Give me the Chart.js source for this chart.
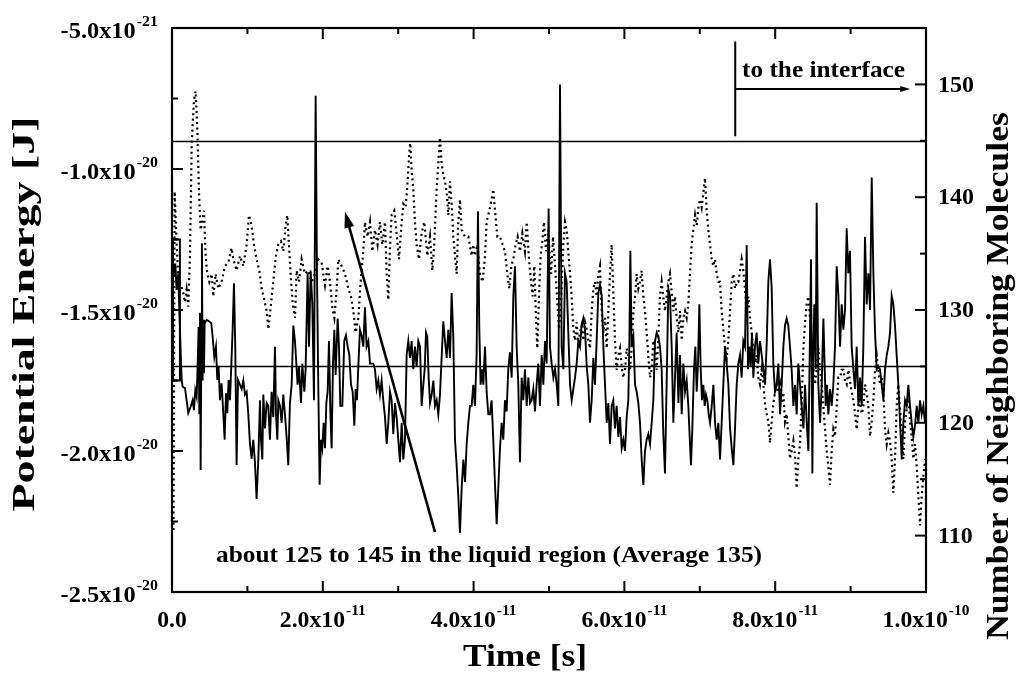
<!DOCTYPE html>
<html><head><meta charset="utf-8">
<script src="https://cdn.jsdelivr.net/npm/chart.js@4/dist/chart.umd.min.js"></script>
<style>html,body{margin:0;padding:0;background:#fff}</style>
</head><body>
<canvas id="c" width="1023" height="688"></canvas>
<script>
// ---- data (time in ps = 1e-12 s; energy in 1e-21 J; neighbours in molecules) ----
const peTime = [0.26,0.44,0.61,0.84,0.97,1.28,1.41,1.72,2.16,2.47,2.74,2.91,3.09,3.27,3.40,3.53,3.62,3.71,3.80,3.89,3.97,4.06,4.15,4.24,4.33,4.59,4.95,5.21,5.39,5.61,5.83,6.01,6.18,6.36,6.58,6.80,6.98,7.16,7.33,7.51,7.69,7.86,8.04,8.22,8.39,8.57,8.75,
9.24,9.46,9.68,9.90,10.12,10.34,10.56,10.78,11.00,11.22,11.45,11.67,11.80,11.98,12.11,12.33,12.55,12.77,12.99,13.21,13.43,13.66,13.79,13.97,14.10,14.32,14.54,14.76,14.98,15.20,15.42,15.64,15.87,16.09,
16.31,16.66,16.84,17.11,17.28,17.55,17.72,17.99,18.17,18.39,18.61,18.83,19.05,19.23,19.40,19.58,19.76,19.93,20.11,20.29,20.47,20.64,20.82,21.00,21.17,21.35,21.53,21.70,21.97,22.15,22.32,22.59,22.85,23.07,23.30,23.52,23.74,23.96,24.18,24.36,24.53,24.71,24.93,25.15,25.37,25.59,25.81,26.04,26.26,26.48,26.70,26.92,27.14,27.36,27.58,27.80,28.02,28.25,28.47,28.69,28.91,29.13,29.35,29.57,29.79,30.01,30.24,30.46,30.68,30.90,31.12,31.34,31.56,31.78,32.00,32.22,32.44,32.67,32.89,33.11,33.33,
33.51,33.69,33.86,34.04,34.22,34.44,34.66,34.88,35.10,35.32,35.54,35.76,35.98,36.21,36.43,36.65,36.87,37.09,37.31,37.53,37.75,37.97,38.19,38.42,38.64,38.86,39.08,39.30,39.52,39.74,39.96,40.18,40.40,40.58,40.76,40.93,41.11,41.29,41.51,41.73,41.95,42.17,42.39,42.61,42.84,43.06,43.28,43.50,43.72,43.94,44.16,44.38,44.60,44.82,45.05,45.27,45.49,45.71,45.93,46.15,46.37,46.59,46.81,47.04,47.26,47.48,47.70,47.92,48.14,48.36,48.58,48.80,49.03,49.25,49.47,49.69,49.95,50.13,
50.35,50.58,50.80,51.02,51.24,51.46,51.68,51.90,52.12,52.34,52.56,52.79,53.01,53.23,53.45,53.67,53.89,54.11,54.33,54.55,54.78,55.00,55.22,55.44,55.66,55.88,56.10,56.32,56.54,56.76,56.99,57.21,57.43,57.65,57.87,58.09,58.31,58.53,58.75,58.97,59.20,59.42,59.64,59.86,60.08,60.30,60.52,60.65,60.79,60.96,61.19,61.41,61.63,61.85,62.07,62.29,62.51,62.73,62.95,63.17,63.40,63.62,63.84,64.06,64.28,64.50,64.72,64.94,65.16,65.38,65.60,65.83,66.05,
66.27,66.49,66.71,66.93,67.16,67.38,67.60,67.82,68.04,68.26,68.48,68.70,68.83,69.01,69.23,69.41,69.59,69.76,69.94,70.12,70.29,70.47,70.65,70.82,71.00,71.18,71.36,71.58,71.80,72.02,72.24,72.46,72.68,72.90,73.12,73.34,73.56,73.79,74.01,74.23,74.45,74.67,74.89,75.11,75.33,75.55,75.77,75.99,76.22,76.39,76.57,76.75,76.92,77.10,77.32,77.54,77.76,77.98,78.21,78.43,78.65,78.87,79.09,79.31,79.53,79.75,79.97,80.19,80.42,80.64,80.86,81.08,81.30,81.52,81.74,81.96,82.18,82.41,82.63,
82.85,83.07,83.29,83.51,83.74,83.96,84.18,84.40,84.62,84.75,84.93,85.06,85.19,85.37,85.50,85.72,85.95,86.17,86.39,86.52,86.70,86.87,87.05,87.27,87.49,87.71,87.93,88.16,88.38,88.60,88.82,89.04,89.26,89.48,89.70,89.92,90.14,90.37,90.59,90.81,91.03,91.25,91.47,91.69,91.91,92.13,92.36,92.58,92.80,93.02,93.24,93.46,93.68,93.90,94.12,94.35,94.57,94.79,95.01,95.23,95.45,95.67,95.89,96.11,96.33,96.56,96.78,97.00,97.22,97.44,97.66,97.88,98.10,98.32,98.54,98.77,98.99,99.21,99.43,99.65,99.87];
const peValue = [-13.82,-13.35,-14.29,-13.7,-15.0,-17.48,-17.72,-17.77,-18.65,-18.43,-18.2,-18.55,-17.84,-18.07,-17.0,-15.6,-18.66,-15.1,-20.67,-16.3,-12.63,-17.5,-15.35,-17.24,-15.47,-15.35,-15.41,-15.47,-15.94,-16.66,-16.3,-17.48,-17.0,-18.2,-17.6,-18.66,-19.6,-17.95,-18.66,-17.48,-18.2,-17.0,-15.7,-14.05,-16.3,-20.5,-17.48,
-17.8,-17.5,-18.0,-17.9,-18.7,-19.75,-20.27,-19.6,-20.4,-21.7,-20.27,-18.2,-19.6,-20.3,-18.0,-19.2,-18.3,-18.4,-19.6,-17.9,-18.8,-16.3,-18.7,-19.6,-18.2,-18.4,-19.0,-18.0,-18.7,-19.5,-20.5,-18.3,-17.65,-15.55,
-16.1,-17.65,-17.0,-18.3,-16.9,-17.9,-17.1,-13.7,-16.3,-13.6,-14.8,-18.2,-7.4,-13.7,-17.65,-21.2,-19.6,-19.9,-19.0,-19.9,-18.3,-17.9,-16.1,-18.6,-19.9,-16.9,-15.7,-17.3,-15.3,-16.3,-18.4,-18.4,-16.1,-15.9,-16.3,-16.6,-17.65,-17.9,-19.1,-17.8,-18.2,-17.0,-15.7,-15.9,-16.3,-14.9,-16.3,-16.1,-16.9,-16.9,-16.9,-17.1,-17.8,-17.5,-18.0,-17.5,-18.2,-18.8,-19.75,-19.0,-17.9,-18.2,-19.4,-18.3,-18.8,-19.6,-20.4,-19.0,-20.3,-19.6,-16.6,-16.1,-16.7,-16.1,-17.1,-16.3,-17.0,-16.1,-16.3,-18.4,-17.65,
-17.1,-15.8,-15.95,-17.4,-18.3,-18.0,-17.5,-18.4,-18.2,-18.7,-18.0,-16.7,-15.4,-16.1,-16.7,-15.7,-16.7,-14.4,-15.95,-19.6,-20.5,-21.6,-22.9,-21.3,-20.3,-21.1,-19.75,-19.0,-18.4,-18.4,-17.65,-18.4,-16.6,-11.5,-15.7,-17.65,-17.1,-17.65,-16.3,-17.9,-18.7,-18.7,-18.2,-19.6,-21.2,-22.6,-21.3,-19.9,-19.0,-19.6,-18.2,-18.6,-17.1,-16.5,-17.4,-14.5,-13.45,-16.3,-17.65,-20.4,-17.4,-18.2,-17.1,-18.4,-17.4,-18.3,-18.2,-17.8,-18.6,-17.65,-16.9,-18.4,-16.6,-17.65,-16.1,-16.9,-11.4,-16.3,
-16.9,-17.4,-17.1,-17.65,-18.4,-7.0,-16.3,-17.1,-13.7,-14.0,-15.8,-17.65,-18.2,-17.8,-17.4,-16.9,-16.1,-16.3,-15.55,-15.3,-15.7,-17.0,-17.65,-19.0,-18.2,-16.7,-17.65,-16.1,-14.4,-14.1,-14.5,-16.3,-17.65,-19.0,-18.3,-19.75,-18.4,-18.2,-19.2,-18.4,-19.5,-18.8,-19.9,-19.6,-20.0,-18.8,-18.2,-16.3,-12.9,-16.3,-15.95,-17.65,-17.9,-18.3,-19.0,-20.3,-21.2,-20.0,-19.6,-19.4,-19.75,-19.0,-18.2,-16.1,-15.8,-15.95,-16.3,-17.1,-19.4,-20.8,-17.65,-14.25,-14.5,
-16.3,-19.0,-17.4,-15.8,-18.3,-16.6,-18.7,-16.9,-17.9,-17.5,-18.4,-19.75,-20.5,-19.2,-17.1,-16.3,-17.9,-16.9,-14.8,-17.1,-18.2,-17.65,-18.4,-18.0,-18.2,-18.7,-19.0,-18.4,-17.65,-19.0,-19.6,-19.0,-20.3,-19.0,-17.65,-16.3,-16.9,-17.65,-19.2,-19.9,-20.5,-19.2,-17.65,-16.9,-16.6,-17.4,-16.1,-16.3,-12.7,-17.1,-16.3,-17.0,-15.8,-17.4,-16.3,-15.8,-16.9,-16.1,-16.6,-17.1,-17.65,-16.2,-14.0,-13.2,-14.2,-16.9,-17.9,-17.65,-16.9,-18.7,-17.65,-16.3,-15.55,-15.3,-15.55,-16.3,-17.1,-18.4,-17.65,
-18.7,-16.9,-17.65,-18.4,-19.2,-17.65,-19.0,-20.0,-15.7,-13.2,-20.8,-16.3,-14.8,-17.1,-11.2,-17.65,-19.0,-17.65,-15.3,-16.6,-18.4,-17.65,-18.7,-17.8,-18.4,-17.65,-16.3,-13.45,-14.5,-16.3,-14.8,-15.7,-15.0,-12.1,-13.7,-12.9,-16.3,-17.1,-17.8,-16.3,-18.4,-17.4,-18.4,-16.3,-12.4,-14.8,-13.7,-15.0,-10.3,-13.7,-15.8,-17.1,-17.0,-17.1,-17.65,-18.2,-17.1,-16.6,-16.3,-15.8,-14.5,-14.8,-15.55,-16.6,-17.65,-19.0,-20.3,-19.0,-18.2,-18.4,-17.65,-18.4,-19.0,-19.5,-19.1,-18.4,-19.0,-18.2,-18.7,-18.4,-19.0];

const nbTime = [0.2,0.35,0.55,0.8,1.5,1.72,1.94,2.16,2.38,2.52,2.61,2.91,3.13,3.35,3.58,3.80,4.02,4.24,4.46,4.68,4.95,5.26,5.48,5.79,6.14,6.58,7.02,7.47,7.91,8.13,8.57,9.01,9.46,9.90,10.21,10.56,10.87,11.22,11.58,11.89,12.24,12.55,12.77,13.08,13.43,13.79,14.10,14.45,14.76,15.07,15.29,15.51,15.73,16.00,16.31,
16.53,16.84,17.19,17.64,18.08,18.52,18.96,19.40,19.85,20.29,20.64,20.95,21.26,21.53,21.84,22.06,22.50,22.94,23.38,23.74,24.05,24.36,24.71,25.02,25.37,25.59,25.95,26.26,26.57,26.92,27.27,27.58,27.89,28.25,28.47,28.69,28.91,29.13,29.48,29.79,30.10,30.46,30.68,30.99,31.25,31.47,31.60,31.78,32.00,32.22,32.44,32.75,33.11,33.46,
33.86,34.22,34.53,34.75,35.10,35.32,35.54,35.76,35.98,36.21,36.43,36.65,36.87,37.09,37.31,37.53,37.75,37.97,38.19,38.42,38.86,39.30,39.74,39.96,40.18,40.49,40.85,41.20,41.51,41.73,42.08,42.39,42.61,42.84,43.15,43.50,43.85,44.16,44.47,44.74,45.00,45.27,45.58,45.84,46.15,46.46,46.81,47.04,47.35,47.61,47.83,48.05,48.27,48.45,48.67,48.89,49.11,49.33,49.60,49.91,
50.00,50.27,50.53,50.80,51.06,51.33,51.59,51.90,52.12,52.34,52.56,52.79,53.01,53.23,53.45,53.67,53.89,54.11,54.33,54.55,54.78,55.00,55.22,55.44,55.66,55.88,56.10,56.32,56.54,56.76,56.99,57.21,57.43,57.65,57.87,58.09,58.31,58.53,58.75,58.97,59.20,59.42,59.64,59.86,60.08,60.30,60.52,60.74,60.96,61.19,61.41,61.63,61.85,62.07,62.29,62.51,62.73,62.95,63.17,63.40,63.62,63.84,64.06,64.28,64.50,64.72,64.94,65.16,65.38,65.60,65.83,66.05,
66.27,66.49,66.71,66.93,67.16,67.38,67.60,67.82,68.04,68.26,68.48,68.70,68.92,69.14,69.37,69.59,69.81,70.03,70.25,70.47,70.69,70.91,71.13,71.36,71.58,71.80,72.02,72.24,72.46,72.68,72.90,73.12,73.34,73.56,73.79,74.01,74.23,74.45,74.67,74.89,75.11,75.33,75.55,75.77,75.99,76.22,76.44,76.66,76.88,77.10,77.32,77.54,77.76,77.98,78.21,78.43,78.65,78.87,79.09,79.31,79.53,79.75,79.97,80.19,80.42,80.64,80.86,81.08,81.30,81.52,81.74,81.96,82.18,82.41,82.63,82.85,83.07,
83.29,83.51,83.74,83.96,84.18,84.40,84.62,84.84,85.06,85.28,85.50,85.72,85.95,86.17,86.39,86.61,86.83,87.05,87.27,87.49,87.71,87.93,88.16,88.38,88.60,88.82,89.04,89.26,89.48,89.70,89.92,90.14,90.37,90.59,90.81,91.03,91.25,91.47,91.69,91.91,92.13,92.36,92.58,92.80,93.02,93.24,93.46,93.68,93.90,94.12,94.35,94.57,94.79,95.01,95.23,95.45,95.67,95.89,96.11,96.33,96.56,96.78,97.00,97.22,97.44,97.66,97.88,98.10,98.32,98.54,98.77,98.99,99.21,99.43,99.65,99.87];
const nbValue = [110.5,140.5,137.0,133.0,131.5,130.7,131.8,130.3,134.7,140.6,144.7,148.6,149.4,146.3,140.4,137.1,137.8,138.8,134.8,133.2,132.5,133.2,131.2,133.2,131.9,132.5,133.9,134.2,135.5,134.5,133.5,134.8,133.9,135.8,138.4,137.5,135.8,134.5,133.5,131.9,130.9,129.9,128.3,130.2,132.5,134.8,135.8,136.1,135.2,137.5,138.4,135.8,133.2,130.6,129.3,
133.5,132.5,134.5,133.2,133.5,132.5,133.2,134.5,134.2,132.2,133.9,132.5,130.2,129.3,131.9,134.5,133.9,133.2,131.9,131.2,129.9,128.0,129.3,132.5,135.2,137.8,136.5,137.8,135.2,137.1,135.8,137.8,135.8,137.8,133.2,130.9,135.5,138.4,138.8,136.8,134.5,137.8,139.4,139.1,141.4,144.0,144.8,142.4,140.7,137.8,135.8,134.5,136.8,137.8,
134.8,136.5,133.5,135.5,140.7,143.0,145.3,143.0,142.0,141.4,140.4,138.4,141.4,139.4,136.5,134.8,133.2,137.8,139.8,137.1,136.5,136.5,134.8,135.8,134.8,135.8,133.2,132.5,134.8,137.8,138.8,139.8,140.7,138.8,136.5,136.5,135.8,135.2,133.2,131.9,133.9,134.5,135.8,136.5,135.2,136.8,135.2,137.8,134.5,132.5,131.2,133.9,129.3,126.6,131.2,134.8,136.1,137.8,135.2,137.1,
135.8,133.2,136.5,133.9,131.2,128.3,130.6,135.8,137.8,137.1,135.2,133.2,131.2,128.3,127.3,128.9,126.6,128.0,128.6,127.3,128.9,128.3,127.3,126.6,129.9,131.9,132.5,131.2,133.2,133.9,129.9,128.0,129.3,126.6,129.9,133.2,135.8,131.6,127.3,124.7,126.0,126.6,125.0,124.0,124.7,126.6,126.0,124.7,126.6,129.9,131.2,133.2,131.9,132.5,133.5,131.2,129.9,128.0,126.0,124.0,124.7,127.3,126.6,124.7,127.6,131.2,132.5,131.2,129.9,131.2,132.5,133.2,
131.6,129.9,131.2,129.3,128.0,129.9,127.3,129.3,129.9,129.3,130.6,133.2,135.8,137.1,138.4,137.5,139.1,139.8,139.1,140.4,141.7,138.8,137.1,135.8,134.5,133.9,134.5,133.2,132.5,132.5,129.9,128.3,126.6,125.7,127.3,129.9,132.5,133.2,131.9,132.5,132.5,133.5,134.5,133.5,131.9,129.9,131.2,129.3,128.0,126.6,125.3,126.0,124.0,123.4,124.7,123.4,121.7,120.8,120.1,118.2,120.1,121.7,122.7,123.4,122.7,123.4,121.7,122.7,120.1,120.8,118.8,116.8,117.5,118.4,117.1,114.2,116.8,
118.1,121.7,126.6,128.9,130.6,131.2,129.3,126.6,125.0,123.4,124.7,126.6,124.7,123.4,121.4,119.4,117.5,116.1,114.5,117.5,119.4,118.8,121.4,124.0,124.0,124.7,124.7,123.7,123.4,124.7,123.7,122.7,122.0,120.8,119.4,121.4,122.0,120.8,121.4,123.4,122.7,121.4,118.8,120.1,122.0,124.7,126.0,124.7,123.4,124.0,122.7,119.4,118.1,119.1,118.4,116.8,113.8,116.8,121.4,123.4,121.1,118.8,116.8,120.1,121.4,122.7,120.1,118.8,116.8,118.1,116.1,113.5,110.9,113.5,115.2,116.8];

// axis ticks
const xTickValues = [0, 20, 40, 60, 80, 100];
const xTickBase   = ['0.0', '2.0x10', '4.0x10', '6.0x10', '8.0x10', '1.0x10'];
const xTickExp    = ['', '-11', '-11', '-11', '-11', '-10'];
const xMinorTicks = [10, 30, 50, 70, 90];
const yTickValues = [-5, -10, -15, -20, -25];
const yTickBase   = ['-5.0x10', '-1.0x10', '-1.5x10', '-2.0x10', '-2.5x10'];
const yTickExp    = ['-21', '-20', '-20', '-20', '-20'];
const yMinorTicks = [-7.5, -12.5, -17.5, -22.5];
const y2TickValues = [110, 120, 130, 140, 150];
const y2TickLabels = ['110', '120', '130', '140', '150'];
const y2MinorTicks = [115, 125, 135, 145];

// reference lines and annotations (data units)
const refLevels = [145, 125];
const startBox = [0, 1.05, -12.5, -17.5];      // t0, t1, top, bottom (energy)
const interfaceMark = [74.7, 153.8, 145.4];     // t, top, bottom (neighbours)
const interfaceArrow = [74.7, 97.9, 149.6];     // t from, t to, level
const liquidArrow = [34.88, 110.3, 22.94, 138.7]; // tail t,N  head t,N

const FONT = '"Liberation Serif", "Times New Roman", serif';

function powText(ctx, base, exp, x, y, align, fs, es, rise, sx) {
  ctx.font = 'bold ' + fs + 'px ' + FONT;
  const wb = ctx.measureText(base).width;
  ctx.font = 'bold ' + es + 'px ' + FONT;
  const we = exp ? ctx.measureText(exp).width + 1 : 0;
  const w = (wb + we) * sx;
  let x0 = align === 'right' ? x - w : align === 'center' ? x - w / 2 : x;
  ctx.save();
  ctx.translate(x0, y);
  ctx.scale(sx, 1);
  ctx.textAlign = 'left';
  ctx.textBaseline = 'alphabetic';
  ctx.font = 'bold ' + fs + 'px ' + FONT;
  ctx.fillText(base, 0, 0);
  if (exp) {
    ctx.font = 'bold ' + es + 'px ' + FONT;
    ctx.fillText(exp, wb + 1, -rise);
  }
  ctx.restore();
}

// draw text stretched along its baseline to a given length
function fitText(ctx, str, cx, cy, len, fs, rot, baseline) {
  ctx.save();
  ctx.font = 'bold ' + fs + 'px ' + FONT;
  const w = ctx.measureText(str).width;
  ctx.translate(cx, cy);
  if (rot) ctx.rotate(rot);
  ctx.scale(len / w, 1);
  ctx.textAlign = 'center';
  ctx.textBaseline = baseline || 'middle';
  ctx.fillText(str, 0, 0);
  ctx.restore();
}

function arrowHead(ctx, x1, y1, x2, y2, len, half) {
  const a = Math.atan2(y2 - y1, x2 - x1);
  ctx.beginPath();
  ctx.moveTo(x2, y2);
  ctx.lineTo(x2 - len * Math.cos(a) + half * Math.sin(a), y2 - len * Math.sin(a) - half * Math.cos(a));
  ctx.lineTo(x2 - len * Math.cos(a) - half * Math.sin(a), y2 - len * Math.sin(a) + half * Math.cos(a));
  ctx.closePath();
  ctx.fill();
}

const decor = {
  id: 'decor',
  beforeDatasetsDraw(chart) {
    const ctx = chart.ctx, a = chart.chartArea, x = chart.scales.x, y = chart.scales.y, y2 = chart.scales.y2;
    ctx.save();
    ctx.strokeStyle = '#000';
    ctx.lineWidth = 1.3;
    refLevels.forEach(v => {
      const py = Math.round(y2.getPixelForValue(v)) + 0.5;
      ctx.beginPath(); ctx.moveTo(a.left, py); ctx.lineTo(a.right, py); ctx.stroke();
    });
    ctx.lineWidth = 2;
    const bx0 = x.getPixelForValue(startBox[0]) + 1, bx1 = x.getPixelForValue(startBox[1]);
    const by0 = y.getPixelForValue(startBox[2]), by1 = y.getPixelForValue(startBox[3]);
    ctx.strokeRect(bx0, by0, bx1 - bx0, by1 - by0);
    ctx.restore();
  },
  afterDatasetsDraw(chart) {
    const ctx = chart.ctx, a = chart.chartArea, x = chart.scales.x, y = chart.scales.y, y2 = chart.scales.y2;
    ctx.save();
    ctx.fillStyle = '#000';
    ctx.strokeStyle = '#000';
    // frame
    ctx.lineWidth = 2.2;
    ctx.strokeRect(a.left, a.top, a.right - a.left, a.bottom - a.top);
    // ticks (inward)
    ctx.lineWidth = 2;
    const MAJ = 11, MIN = 6;
    const vt = (px, len) => {
      ctx.beginPath(); ctx.moveTo(px, a.bottom); ctx.lineTo(px, a.bottom - len); ctx.stroke();
      ctx.beginPath(); ctx.moveTo(px, a.top); ctx.lineTo(px, a.top + len); ctx.stroke();
    };
    xTickValues.forEach(v => vt(x.getPixelForValue(v), MAJ));
    xMinorTicks.forEach(v => vt(x.getPixelForValue(v), MIN));
    const lt = (py, len) => { ctx.beginPath(); ctx.moveTo(a.left, py); ctx.lineTo(a.left + len, py); ctx.stroke(); };
    const rt = (py, len) => { ctx.beginPath(); ctx.moveTo(a.right, py); ctx.lineTo(a.right - len, py); ctx.stroke(); };
    yTickValues.forEach(v => lt(y.getPixelForValue(v), MAJ));
    yMinorTicks.forEach(v => lt(y.getPixelForValue(v), MIN));
    y2TickValues.forEach(v => rt(y2.getPixelForValue(v), MAJ));
    y2MinorTicks.forEach(v => rt(y2.getPixelForValue(v), MIN));

    // tick labels
    xTickValues.forEach((v, i) => powText(ctx, xTickBase[i], xTickExp[i], x.getPixelForValue(v), a.bottom + 35, 'center', 23, 15, 12, 1.03));
    yTickValues.forEach((v, i) => powText(ctx, yTickBase[i], yTickExp[i], a.left - 14, y.getPixelForValue(v) + 10, 'right', 23, 15, 12, 1.06));
    ctx.font = 'bold 24px ' + FONT;
    ctx.textAlign = 'left'; ctx.textBaseline = 'middle';
    y2TickValues.forEach((v, i) => ctx.fillText(y2TickLabels[i], a.right + 12, y2.getPixelForValue(v) + 1));

    // axis titles
    fitText(ctx, 'Time [s]', 525, 658, 124, 32, 0);
    fitText(ctx, 'Potential Energy [J]', 26, 314, 395, 32, -Math.PI / 2);
    fitText(ctx, 'Number of Neighboring Molecules', 1000, 376, 528, 32, -Math.PI / 2);

    // interface annotation
    ctx.lineWidth = 2;
    const ix = x.getPixelForValue(interfaceMark[0]);
    ctx.beginPath(); ctx.moveTo(ix, y2.getPixelForValue(interfaceMark[1])); ctx.lineTo(ix, y2.getPixelForValue(interfaceMark[2])); ctx.stroke();
    const ay = y2.getPixelForValue(interfaceArrow[2]);
    const ax0 = x.getPixelForValue(interfaceArrow[0]), ax1 = x.getPixelForValue(interfaceArrow[1]);
    ctx.beginPath(); ctx.moveTo(ax0, ay); ctx.lineTo(ax1 - 6, ay); ctx.stroke();
    arrowHead(ctx, ax0, ay, ax1, ay, 10, 3);
    fitText(ctx, 'to the interface', 823.5, ay - 12, 163, 23, 0, 'alphabetic');

    // liquid region arrow
    ctx.lineWidth = 2.6;
    const tx = x.getPixelForValue(liquidArrow[0]), ty = y2.getPixelForValue(liquidArrow[1]);
    const hx = x.getPixelForValue(liquidArrow[2]), hy = y2.getPixelForValue(liquidArrow[3]);
    const ang = Math.atan2(hy - ty, hx - tx);
    ctx.beginPath(); ctx.moveTo(tx, ty); ctx.lineTo(hx - 10 * Math.cos(ang), hy - 10 * Math.sin(ang)); ctx.stroke();
    arrowHead(ctx, tx, ty, hx, hy, 16, 5);
    fitText(ctx, 'about 125 to 145 in the liquid region (Average 135)', 489, 562, 546, 23, 0, 'alphabetic');
    ctx.restore();
  }
};

const pePoints = peTime.map((t, i) => ({ x: t, y: peValue[i] }));
const nbPoints = nbTime.map((t, i) => ({ x: t, y: nbValue[i] }));

new Chart(document.getElementById('c'), {
  type: 'line',
  data: {
    datasets: [
      { label: 'Potential Energy', data: pePoints, yAxisID: 'y', borderColor: '#000', borderWidth: 1.9,
        pointRadius: 0, tension: 0, fill: false },
      { label: 'Number of Neighboring Molecules', data: nbPoints, yAxisID: 'y2', borderColor: '#000', borderWidth: 2.2,
        borderDash: [2, 3.5], pointRadius: 0, tension: 0, fill: false }
    ]
  },
  options: {
    responsive: false,
    animation: false,
    devicePixelRatio: 1,
    layout: { padding: { left: 172, right: 97, top: 28, bottom: 96 } },
    plugins: { legend: { display: false }, tooltip: { enabled: false } },
    scales: {
      x: { type: 'linear', min: 0, max: 100, display: false },
      y: { type: 'linear', position: 'left', min: -25, max: -5, display: false },
      y2: { type: 'linear', position: 'right', min: 105, max: 155, display: false }
    }
  },
  plugins: [decor]
});
</script>
</body></html>
